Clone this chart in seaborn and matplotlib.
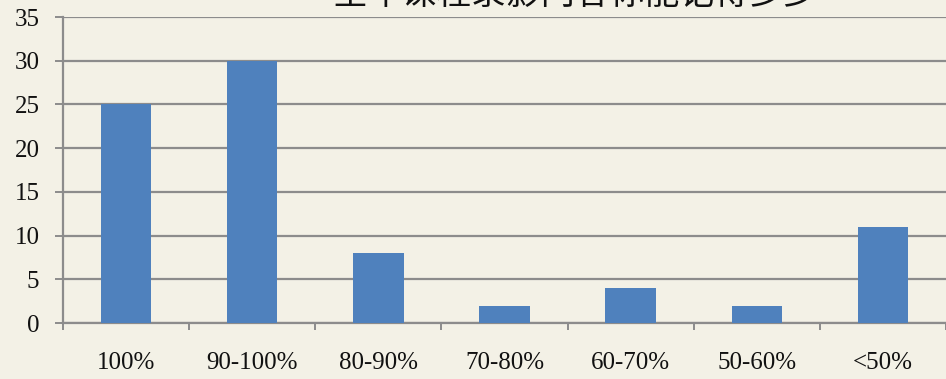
import matplotlib
matplotlib.use("Agg")
import matplotlib.pyplot as plt
import seaborn as sns
import pandas as pd
from matplotlib.ticker import FixedLocator, MultipleLocator

categories = ["100%", "90-100%", "80-90%", "70-80%", "60-70%", "50-60%", "<50%"]
counts = [25, 30, 8, 2, 4, 2, 11]
title = "全年课程录影内容你能记得多少"

bg = "#F3F1E6"
bar_color = "#4F81BD"
grid_color = "#8C8C8C"

sns.set_theme(style="white")
plt.rcParams["font.family"] = ["Liberation Serif", "DejaVu Serif"]

df = pd.DataFrame({"range": categories, "count": counts})

fig = plt.figure(figsize=(9.46, 3.79), dpi=100, facecolor=bg)
ax = fig.add_axes([63 / 946, 56 / 379, 1 - 63 / 946, (323 - 17) / 379])
ax.set_facecolor(bg)

sns.barplot(data=df, x="range", y="count", color=bar_color, width=0.4,
            saturation=1, linewidth=0, edgecolor="none", ax=ax, zorder=3)

ax.set_xlim(-0.5, len(categories) - 0.5)
ax.set_ylim(0, 35)
ax.yaxis.set_major_locator(MultipleLocator(5))
ax.grid(axis="y", color=grid_color, linewidth=1.6, zorder=0)
ax.grid(axis="x", visible=False)
ax.set_xlabel("")
ax.set_ylabel("")

for side in ["top", "right"]:
    ax.spines[side].set_visible(False)
for side in ["left", "bottom"]:
    ax.spines[side].set_color(grid_color)
    ax.spines[side].set_linewidth(1.6)

ax.tick_params(axis="y", which="major", length=6, width=1.4, color=grid_color,
               direction="out", pad=11, labelsize=18, labelcolor="#111111", left=True)
ax.xaxis.set_minor_locator(FixedLocator([i - 0.5 for i in range(len(categories) + 1)]))
ax.tick_params(axis="x", which="major", length=0, pad=21, labelsize=18,
               labelcolor="#111111")
ax.tick_params(axis="x", which="minor", length=5, width=1.4, color=grid_color,
               direction="out", bottom=True)

fig.text(575 / 946, 1 - 3.5 / 379, title, ha="center", va="baseline",
         fontsize=25, family=["Noto Sans CJK SC", "DejaVu Sans"], color="#111111")

fig.savefig("out.png", dpi=100, facecolor=bg)
